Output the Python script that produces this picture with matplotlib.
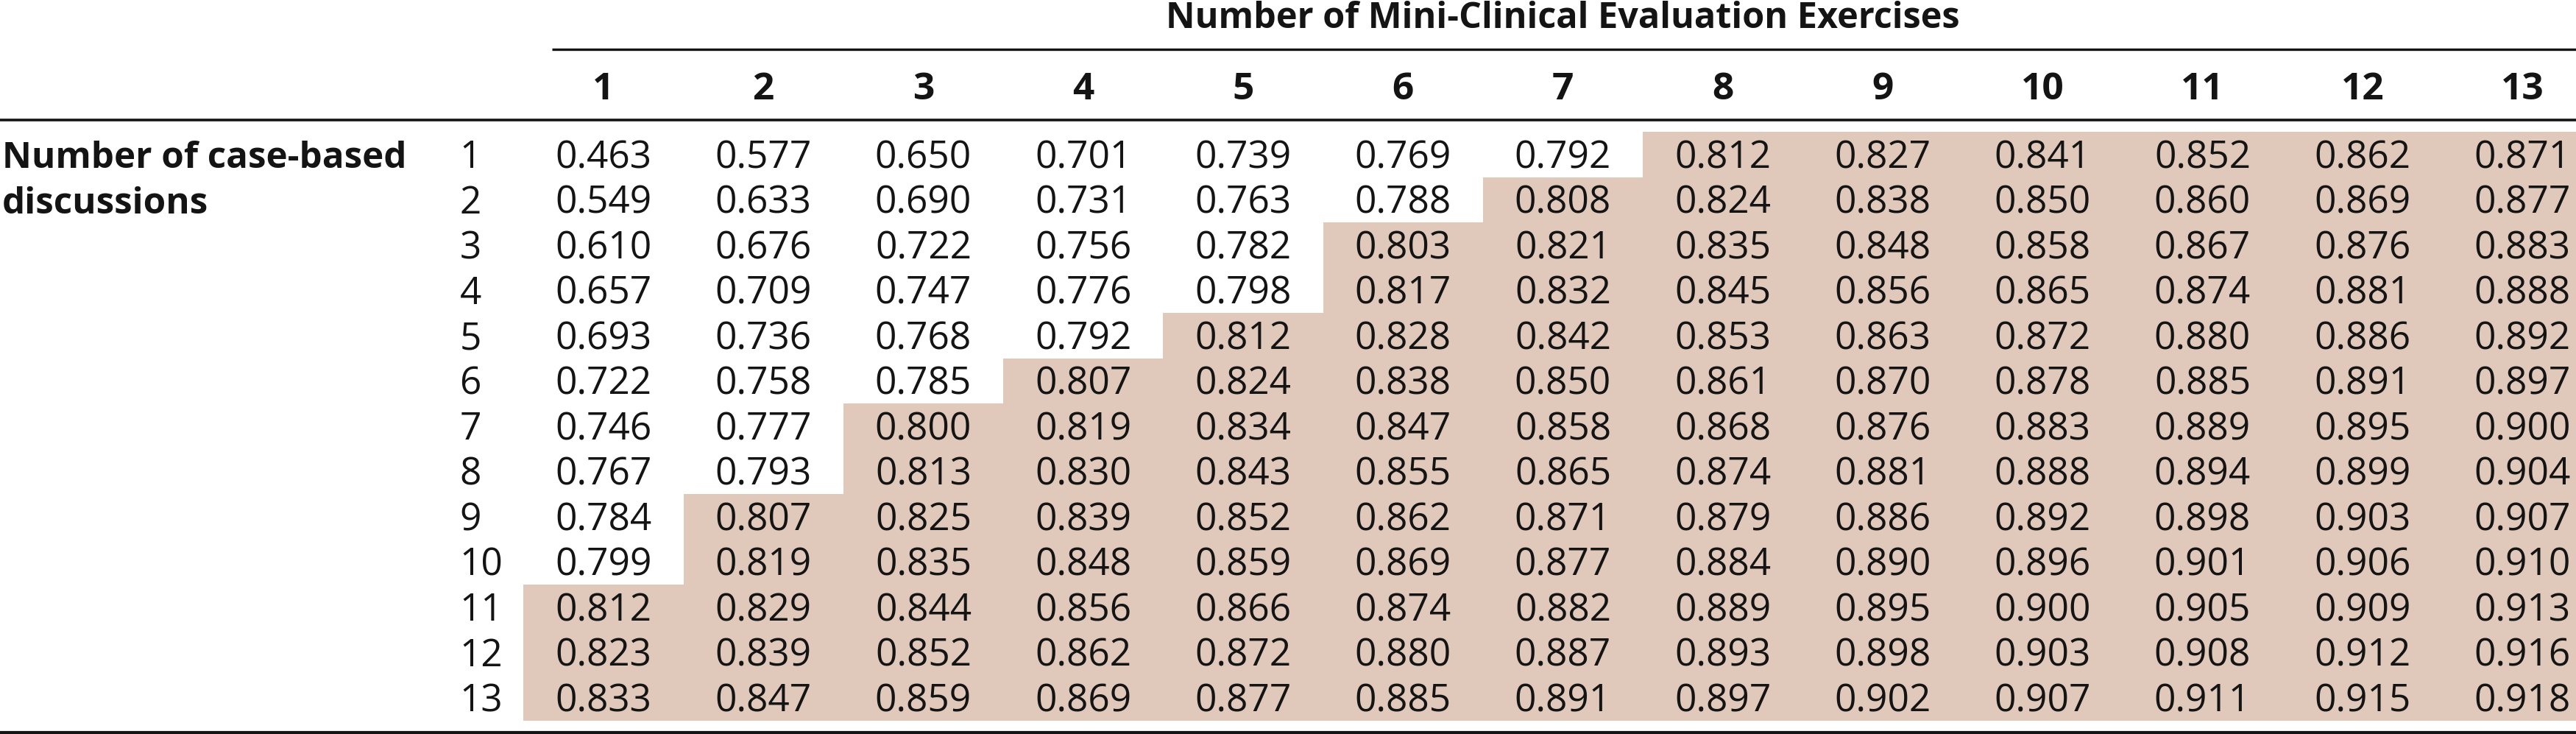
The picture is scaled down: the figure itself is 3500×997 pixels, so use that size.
import numpy as np
import matplotlib
matplotlib.use("Agg")
import matplotlib.pyplot as plt
from matplotlib.colors import ListedColormap

# data: reliability by number of Mini-CEX (columns) and CbD (rows)
mini_cex = list(range(1, 14))
cbd = list(range(1, 14))
values = [
    [0.463, 0.577, 0.650, 0.701, 0.739, 0.769, 0.792, 0.812, 0.827, 0.841, 0.852, 0.862, 0.871],
    [0.549, 0.633, 0.690, 0.731, 0.763, 0.788, 0.808, 0.824, 0.838, 0.850, 0.860, 0.869, 0.877],
    [0.610, 0.676, 0.722, 0.756, 0.782, 0.803, 0.821, 0.835, 0.848, 0.858, 0.867, 0.876, 0.883],
    [0.657, 0.709, 0.747, 0.776, 0.798, 0.817, 0.832, 0.845, 0.856, 0.865, 0.874, 0.881, 0.888],
    [0.693, 0.736, 0.768, 0.792, 0.812, 0.828, 0.842, 0.853, 0.863, 0.872, 0.880, 0.886, 0.892],
    [0.722, 0.758, 0.785, 0.807, 0.824, 0.838, 0.850, 0.861, 0.870, 0.878, 0.885, 0.891, 0.897],
    [0.746, 0.777, 0.800, 0.819, 0.834, 0.847, 0.858, 0.868, 0.876, 0.883, 0.889, 0.895, 0.900],
    [0.767, 0.793, 0.813, 0.830, 0.843, 0.855, 0.865, 0.874, 0.881, 0.888, 0.894, 0.899, 0.904],
    [0.784, 0.807, 0.825, 0.839, 0.852, 0.862, 0.871, 0.879, 0.886, 0.892, 0.898, 0.903, 0.907],
    [0.799, 0.819, 0.835, 0.848, 0.859, 0.869, 0.877, 0.884, 0.890, 0.896, 0.901, 0.906, 0.910],
    [0.812, 0.829, 0.844, 0.856, 0.866, 0.874, 0.882, 0.889, 0.895, 0.900, 0.905, 0.909, 0.913],
    [0.823, 0.839, 0.852, 0.862, 0.872, 0.880, 0.887, 0.893, 0.898, 0.903, 0.908, 0.912, 0.916],
    [0.833, 0.847, 0.859, 0.869, 0.877, 0.885, 0.891, 0.897, 0.902, 0.907, 0.911, 0.915, 0.918],
]
threshold = 0.80
col_title = "Number of Mini-Clinical Evaluation Exercises"
row_title = ["Number of case-based", "discussions"]

plt.rcParams["font.family"] = ["Open Sans", "DejaVu Sans"]
ink = "#141414"
shade = "#e0c9ba"
fs = 37

fig = plt.figure(figsize=(35, 9.97), dpi=100)
ax = fig.add_axes([0, 0, 1, 1])
# one unit per column / row; col 1 centred at px 820, row 1 at px 210
ax.set_xlim(-2.774, 13.336)
ax.set_ylim(13.797, -2.415)
ax.axis("off")

vals = np.array(values)
n_rows, n_cols = vals.shape

# shaded cells (reliability >= 0.80)
xe = np.arange(n_cols + 1) + 0.5
ye = np.arange(n_rows + 1) + 0.5
masked = np.ma.masked_less(vals, threshold)
ax.pcolormesh(xe, ye, masked, cmap=ListedColormap([shade]),
              shading="flat", antialiased=False, linewidth=0)

# cell values and row numbers
for i, r in enumerate(cbd):
    for j, c in enumerate(mini_cex):
        ax.text(c, r + 0.3, f"{vals[i, j]:.3f}", ha="center", va="baseline",
                fontsize=fs, color=ink, fontweight="normal")
    ax.text(0.1, r + 0.3, str(r), ha="left", va="baseline",
            fontsize=fs, color=ink, fontweight="normal")

# column headers
for c in mini_cex:
    ax.text(c, -0.22, str(c), ha="center", va="baseline",
            fontsize=fs, color=ink, fontweight="bold")

ax.text(7, -1.797, col_title, ha="center", va="baseline",
        fontsize=35, color=ink, fontweight="bold")
for k, line in enumerate(row_title):
    ax.text(-2.76, 1 + k + 0.3, line, ha="left", va="baseline",
            fontsize=35.5, color=ink, fontweight="bold")

# rules
ax.hlines(-1.325, 0.678, 13.336, color=ink, linewidth=2.4)
ax.hlines(0.236, -2.774, 13.336, color=ink, linewidth=2.6)
ax.hlines(13.76, -2.774, 13.336, color=ink, linewidth=3.0)

fig.savefig("out.png", dpi=100)
